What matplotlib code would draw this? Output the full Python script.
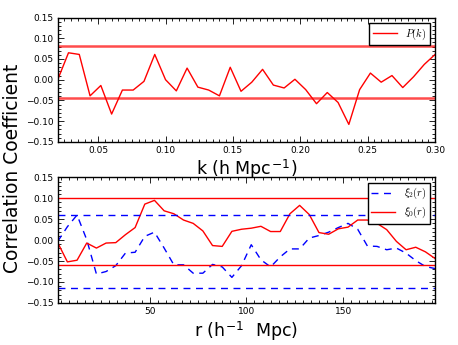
import numpy as np
import matplotlib
matplotlib.use("Agg")
import matplotlib.pyplot as plt
from matplotlib.ticker import MultipleLocator

plt.rcParams['mathtext.fontset'] = 'cm'
plt.rcParams['font.family'] = ['DejaVu Sans']

# ---- data: top panel (P(k)) ----
k_values = np.round(0.02 + 0.008 * np.arange(36), 3)
pk_corr = [0.000, 0.065, 0.061, -0.039, -0.014, -0.083, -0.025, -0.025, -0.004, 0.061,
           0.000, -0.027, 0.028, -0.018, -0.025, -0.039, 0.030, -0.028, -0.006, 0.025,
           -0.013, -0.020, 0.001, -0.024, -0.058, -0.031, -0.055, -0.108, -0.024, 0.016,
           -0.006, 0.010, -0.019, 0.007, 0.037, 0.061]
pk_bounds = [0.081, -0.045]

# ---- data: bottom panel (xi_0, xi_2) ----
r_values = 2.5 + 5 * np.arange(40)
xi0_corr = [-0.006, -0.052, -0.048, -0.007, -0.019, -0.007, -0.006, 0.013, 0.030, 0.086,
            0.095, 0.070, 0.063, 0.048, 0.040, 0.022, -0.013, -0.015, 0.021, 0.026,
            0.0285, 0.033, 0.0205, 0.0205, 0.063, 0.083, 0.061, 0.018, 0.014, 0.027,
            0.031, 0.048, 0.048, 0.040, 0.025, -0.003, -0.023, -0.017, -0.028, -0.044]
xi2_corr = [-0.003, 0.032, 0.060, 0.001, -0.081, -0.075, -0.061, -0.031, -0.029, 0.009,
            0.019, -0.019, -0.059, -0.059, -0.079, -0.079, -0.058, -0.064, -0.089, -0.061,
            -0.011, -0.047, -0.064, -0.040, -0.021, -0.021, 0.005, 0.011, 0.019, 0.030,
            0.040, 0.026, -0.014, -0.015, -0.023, -0.019, -0.031, -0.049, -0.063, -0.068]
xi0_bounds = [0.100, -0.0595]
xi2_bounds = [0.060, -0.1136]

yticks = [-0.15, -0.10, -0.05, 0.00, 0.05, 0.10, 0.15]

fig = plt.figure(figsize=(4.58, 3.45), dpi=100)
ax1 = fig.add_axes([0.126, 0.589, 0.824, 0.360])
ax2 = fig.add_axes([0.126, 0.122, 0.824, 0.364])

tick_fs = 6.5

def style(ax):
    ax.tick_params(which='both', direction='in', top=True, right=True, labelsize=tick_fs,
                   width=0.6)
    ax.tick_params(which='major', length=4.5, pad=3)
    ax.tick_params(which='minor', length=2)
    for s in ax.spines.values():
        s.set_linewidth(1.0)
    ax.set_ylim(-0.15, 0.15)
    ax.set_yticks(yticks)
    ax.set_yticklabels(['%.2f' % v if v >= 0 else '\u2212%.2f' % -v for v in yticks])
    ax.yaxis.set_minor_locator(MultipleLocator(0.01))

leg_kw = dict(loc='upper right', fontsize=7.5, fancybox=False, edgecolor='black',
              framealpha=1, borderaxespad=0.5, handlelength=2.3, labelspacing=0.35,
              borderpad=0.35)

# top panel
ax1.plot(k_values, pk_corr, color='red', lw=1.0, label='$P(k)$')
for b in pk_bounds:
    ax1.axhline(b, color='red', lw=1.8, alpha=0.7)
ax1.set_xlim(0.02, 0.30)
ax1.set_xticks([0.05, 0.10, 0.15, 0.20, 0.25, 0.30])
ax1.xaxis.set_minor_locator(MultipleLocator(0.005))
style(ax1)
ax1.set_xlabel('k (h Mpc$^{\\mathregular{-1}}$)', fontsize=12.5, labelpad=2)
ax1.legend(**leg_kw)

# bottom panel
ax2.plot(r_values, xi2_corr, color='blue', lw=1.0, ls='--', dashes=(5, 4), label=r'$\xi_2(r)$')
ax2.plot(r_values, xi0_corr, color='red', lw=1.0, label=r'$\xi_0(r)$')
for b in xi0_bounds:
    ax2.axhline(b, color='red', lw=1.0)
for b in xi2_bounds:
    ax2.axhline(b, color='blue', lw=1.0, ls='--', dashes=(5, 4))
ax2.set_xlim(2.5, 197.5)
ax2.set_xticks([50, 100, 150])
ax2.xaxis.set_minor_locator(MultipleLocator(50 / 12))
style(ax2)
ax2.set_xlabel('r (h$^{\\mathregular{-1}}$  Mpc)', fontsize=12.5, labelpad=2)
ax2.legend(**leg_kw)

fig.text(0.028, 0.512, 'Correlation Coefficient', rotation=90, fontsize=13.5,
         ha='center', va='center')

fig.savefig('out.png', dpi=100, facecolor='white')
